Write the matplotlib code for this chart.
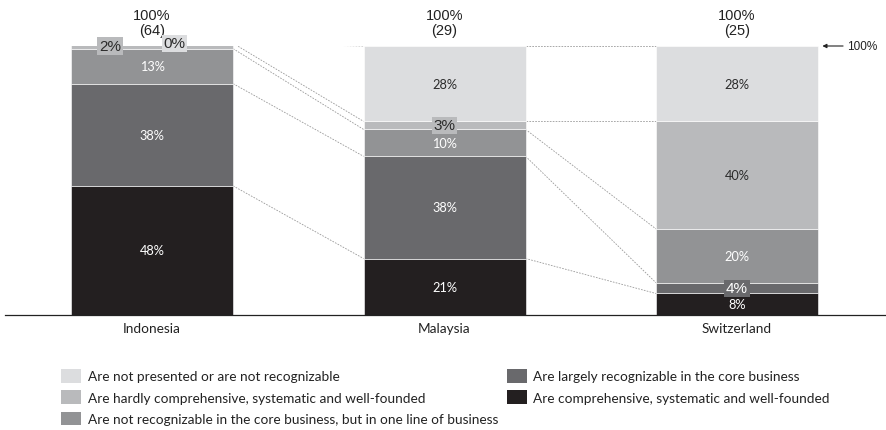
import matplotlib.pyplot as plt
import numpy as np
from matplotlib.patches import Patch

countries = ["Indonesia", "Malaysia", "Switzerland"]
totals = ["(64)", "(29)", "(25)"]

# stacking order: bottom to top
categories = [
    "Are comprehensive, systematic and well-founded",
    "Are largely recognizable in the core business",
    "Are not recognizable in the core business, but in one line of business",
    "Are hardly comprehensive, systematic and well-founded",
    "Are not presented or are not recognizable",
]
shares = np.array([
    [48, 21, 8],
    [38, 38, 4],
    [13, 10, 20],
    [2, 3, 40],
    [0, 28, 28],
])
colors = ["#231f20", "#69696c", "#929395", "#b9babc", "#dcdddf"]
text_colors = ["white", "white", "white", "#2b2b2b", "#2b2b2b"]

fig = plt.figure(figsize=(8.87, 4.31), dpi=100)
ax = fig.add_axes([5 / 887, 115 / 431, 882 / 887, 269 / 431])

x = np.arange(len(countries))
width = 0.554
bottoms = np.zeros(len(countries))
cum = [bottoms.copy()]
for i, cat in enumerate(categories):
    ax.bar(x, shares[i], width, bottom=bottoms, color=colors[i],
           edgecolor="white", linewidth=0.4, label=cat, zorder=2)
    bottoms = bottoms + shares[i]
    cum.append(bottoms.copy())

# dotted connectors between the segment boundaries of neighbouring bars
for level in cum[1:]:
    for j in range(len(countries) - 1):
        ax.plot([x[j] + width / 2, x[j + 1] - width / 2],
                [level[j], level[j + 1]], color="#9a9a9a",
                lw=0.6, ls=(0, (2, 1.5)), zorder=1)

# value labels
boxed = {(3, 0): -0.26, (4, 0): 0.14, (3, 1): 0.0, (1, 2): 0.0}
for i in range(len(categories)):
    for j in range(len(countries)):
        v = shares[i, j]
        mid = cum[i][j] + v / 2
        if (i, j) in boxed:
            ax.text(x[j] + boxed[(i, j)] * width, mid, f"{v}%",
                    ha="center", va="center", fontsize=11,
                    family="Liberation Sans", color=text_colors[i],
                    bbox=dict(boxstyle="square,pad=0.1", fc=colors[i], ec="none"),
                    zorder=4)
        else:
            ax.text(x[j], mid, f"{v}%", ha="center", va="center",
                    fontsize=9.2, family="Lato", color=text_colors[i], zorder=3)

for j in range(len(countries)):
    ax.text(x[j], 103.2, f"100%\n{totals[j]}", ha="center", va="bottom",
            fontsize=10.5, family="Liberation Sans", color="#222222",
            linespacing=1.1, clip_on=False)

ax.annotate("100%", xy=(x[-1] + width / 2 + 0.015, 100),
            xytext=(x[-1] + width / 2 + 0.1, 100), va="center",
            fontsize=8.5, family="Liberation Sans", color="#222222",
            arrowprops=dict(arrowstyle="-|>", color="#222222", lw=0.8,
                            mutation_scale=6, shrinkA=1, shrinkB=0))

ax.set_xlim(-0.503, 2.513)
ax.set_ylim(0, 100)
ax.set_xticks(x)
ax.set_xticklabels(countries, fontsize=9.8, family="Lato", color="#222222")
ax.tick_params(axis="x", length=0, pad=5)
ax.set_yticks([])
for side in ["top", "right", "left"]:
    ax.spines[side].set_visible(False)
ax.spines["bottom"].set_color("#222222")
ax.spines["bottom"].set_linewidth(0.9)

order = [4, 3, 2, 1, 0]
handles = [Patch(facecolor=colors[k], edgecolor="none") for k in order]
fig.legend(handles, [categories[k] for k in order], ncol=2,
           loc="upper left", bbox_to_anchor=(61 / 887, 1 - 370 / 431),
           frameon=False, borderpad=0, borderaxespad=0,
           prop={"family": "Lato", "size": 9.8},
           handlelength=1.5, handleheight=1.15, handletextpad=0.45,
           labelspacing=0.58, columnspacing=0.65, labelcolor="#222222")

fig.savefig("out.png", dpi=100)
